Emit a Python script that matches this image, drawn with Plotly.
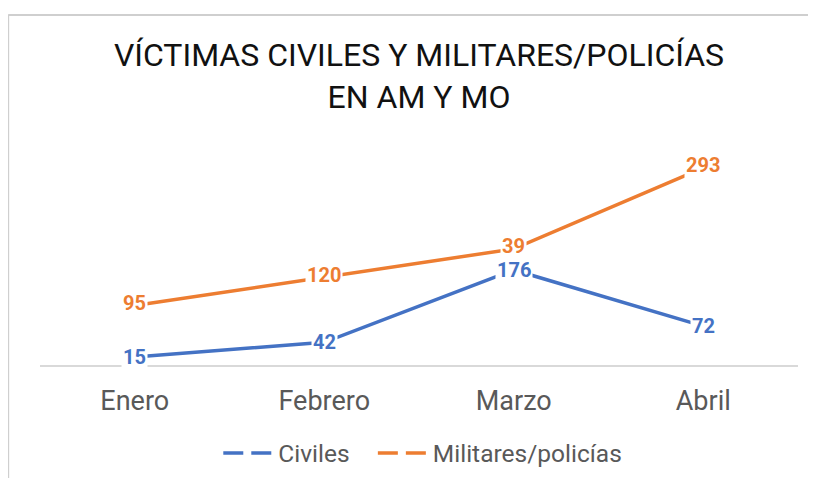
import plotly.graph_objects as go

months = ["Enero", "Febrero", "Marzo", "Abril"]
civiles = [15, 42, 176, 72]
militares = [95, 120, 39, 293]
series_names = ["Civiles", "Militares/policías"]
colors = ["#4472C4", "#ED7D31"]

fig = go.Figure()

# stacked lines (no fill), as in the source chart
fig.add_trace(go.Scatter(x=months, y=civiles, name=series_names[0], mode="lines",
                         stackgroup="s", fill="none",
                         line=dict(color=colors[0], width=3.5), showlegend=False))
fig.add_trace(go.Scatter(x=months, y=militares, name=series_names[1], mode="lines",
                         stackgroup="s", fill="none",
                         line=dict(color=colors[1], width=3.5), showlegend=False))

# legend-only entries with the dashed symbol of the source
legend_labels = [series_names[0] + "\u00a0\u00a0\u00a0", series_names[1]]
for nm, c in zip(legend_labels, colors):
    fig.add_trace(go.Scatter(x=[None], y=[None], name=nm, mode="lines",
                             line=dict(color=c, width=3.5, dash="20px,8px")))

# data labels on the stacked positions
cum = [a + b for a, b in zip(civiles, militares)]
for m, v, yv in zip(months, civiles, civiles):
    fig.add_annotation(x=m, y=yv, text=f"<b>{v}</b>", showarrow=False,
                       font=dict(family="Roboto", size=20, color=colors[0]),
                       bgcolor="white", borderpad=1, xanchor="center", yanchor="middle")
for m, v, yv in zip(months, militares, cum):
    fig.add_annotation(x=m, y=yv, text=f"<b>{v}</b>", showarrow=False, yshift=3,
                       font=dict(family="Roboto", size=20, color=colors[1]),
                       bgcolor="white", borderpad=1, xanchor="center", yanchor="middle")

# outer frame (left and top edges visible in the crop)
fig.add_shape(type="line", xref="paper", yref="paper",
              x0=-0.042, x1=-0.042, y0=-0.9, y1=1.62,
              line=dict(color="#cfcfcf", width=2), layer="below")
fig.add_shape(type="line", xref="paper", yref="paper",
              x0=-0.042, x1=1.2, y0=1.62, y1=1.62,
              line=dict(color="#cfcfcf", width=2), layer="below")

fig.update_layout(
    width=800, height=470,
    margin=dict(l=32, r=10, t=141, b=113, autoexpand=False),
    paper_bgcolor="white", plot_bgcolor="white",
    title=dict(text="VÍCTIMAS CIVILES Y MILITARES/POLICÍAS<br>EN AM Y MO",
               x=0.5, xref="paper", xanchor="center",
               y=0.876, yanchor="middle",
               font=dict(family="Roboto", size=32, color="#111111")),
    xaxis=dict(type="category", range=[-0.5, 3.5], showgrid=False,
               showline=True, linecolor="#d9d9d9", linewidth=2,
               ticks="outside", ticklen=11, tickcolor="rgba(0,0,0,0)",
               tickfont=dict(family="Roboto", size=27, color="#595959"),
               zeroline=False, automargin=False),
    yaxis=dict(range=[0, 400], visible=False, showgrid=False, zeroline=False),
    legend=dict(orientation="h", x=0.505, xanchor="center",
                yref="container", y=1 - 445 / 470, yanchor="middle",
                font=dict(family="Roboto", size=24.5, color="#595959"),
                itemwidth=50, bgcolor="rgba(0,0,0,0)"),
    showlegend=True,
)

fig.write_html("out.html")
